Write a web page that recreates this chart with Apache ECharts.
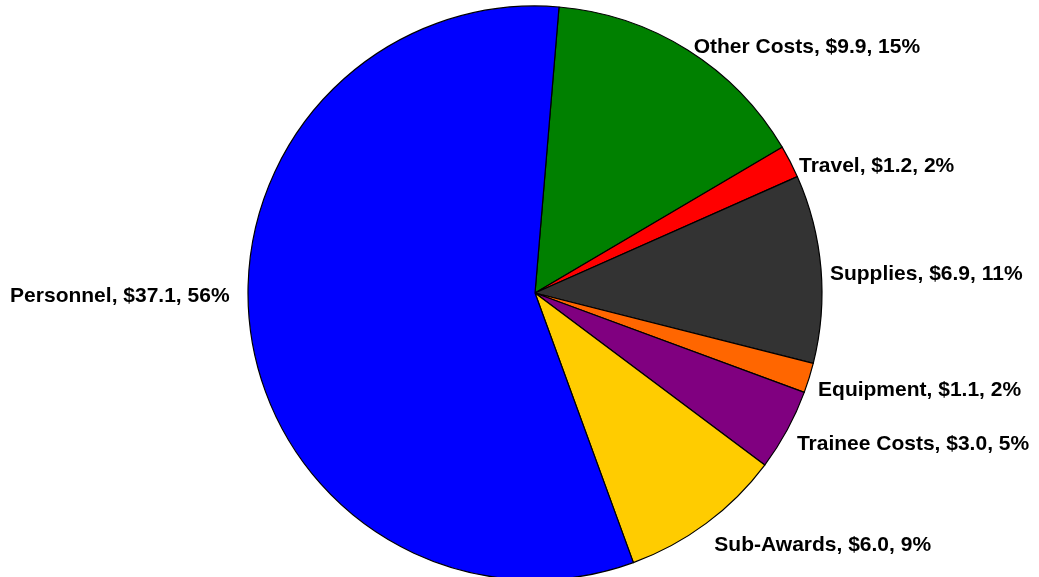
<!DOCTYPE html>
<html>
<head>
<meta charset="utf-8">
<script src="https://cdn.jsdelivr.net/npm/echarts@6/dist/echarts.min.js"></script>
<style>
  html, body { margin: 0; padding: 0; background: #fff; }
  #chart { width: 1039px; height: 577px; }
</style>
</head>
<body>
<div id="chart"></div>
<script>
// budget categories, clockwise from the top
const categories = ['Other Costs', 'Travel', 'Supplies', 'Equipment', 'Trainee Costs', 'Sub-Awards', 'Personnel'];
const amounts = [9.9, 1.2, 6.9, 1.1, 3.0, 6.0, 37.1];
const percents = [15, 2, 11, 2, 5, 9, 56];
const colors = ['#008000', '#ff0000', '#333333', '#ff6600', '#800080', '#ffcc00', '#0000ff'];
// small nudges so labels sit where the original put them
const labelNudgeX = [-2, 0, 0, 0, 1, 0, -12];
const labelNudgeY = [-1, 5, 6, 12, 13, 20, -35];

const chart = echarts.init(document.getElementById('chart'));

let data = [];
for (let i = 0; i < categories.length; i++) {
  data.push({
    name: categories[i],
    value: amounts[i],
    itemStyle: { color: colors[i] }
  });
}

const option = {
  animation: false,
  series: [{
    type: 'pie',
    center: [535, 293],
    radius: 287,
    startAngle: 85.2,
    clockwise: true,
    avoidLabelOverlap: false,
    data: data,
    itemStyle: {
      borderColor: '#000',
      borderWidth: 1.2
    },
    label: {
      show: true,
      position: 'outside',
      color: '#000',
      fontFamily: 'Liberation Sans, Arial, sans-serif',
      fontWeight: 'bold',
      fontSize: 21,
      formatter: (p) => `${p.name}, $${p.value.toFixed(1)}, ${percents[p.dataIndex]}%`
    },
    labelLine: {
      show: false,
      length: 2,
      length2: 2
    },
    labelLayout: (params) => ({
      dx: labelNudgeX[params.dataIndex],
      dy: labelNudgeY[params.dataIndex]
    }),
    emphasis: { disabled: true }
  }]
};

chart.setOption(option);
</script>
</body>
</html>
